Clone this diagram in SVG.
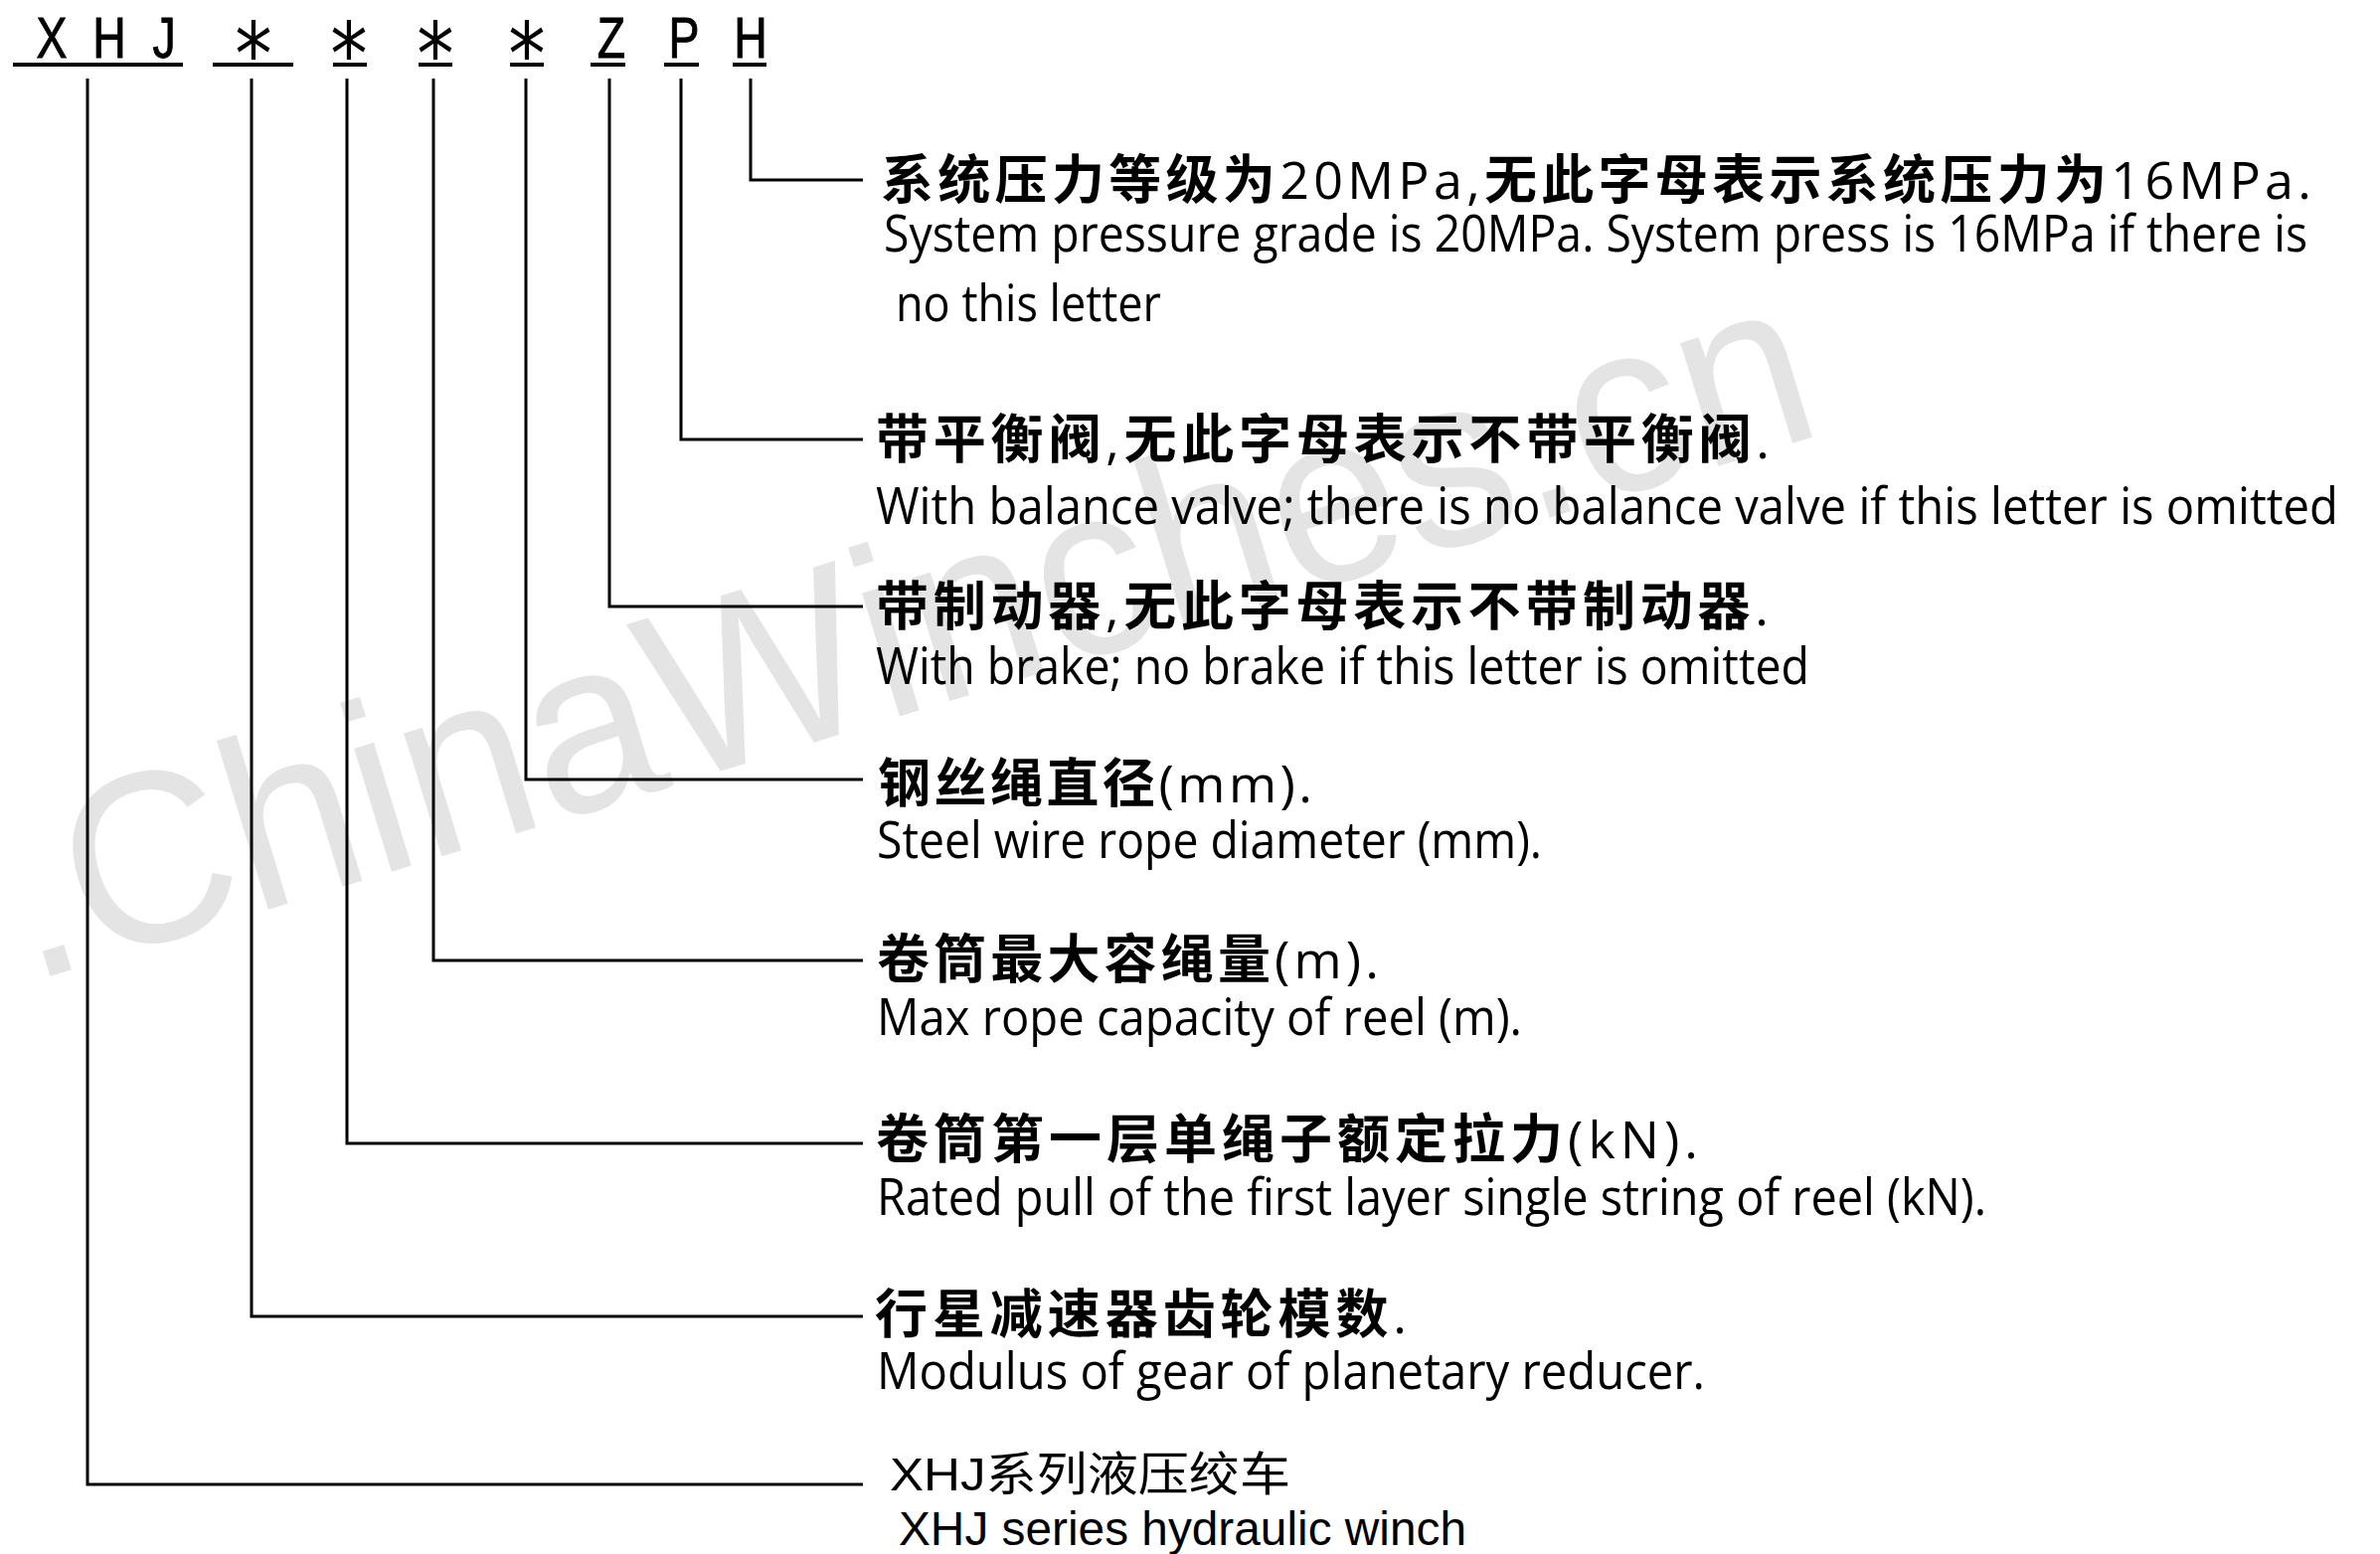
<svg xmlns="http://www.w3.org/2000/svg" width="2394" height="1563" viewBox="0 0 2394 1563">
<style>
.wm { font-family: "Liberation Sans", Arial, sans-serif; font-size: 245px; fill: #e4e4e4; }
.code { font-family: "Liberation Sans", Arial, sans-serif; font-size: 58px; fill: #000; stroke: #000; stroke-width: 1; }
.star { font-family: "DejaVu Sans", sans-serif; font-size: 88px; fill: #000; }
.zh { font-family: "Noto Sans CJK SC", sans-serif; font-size: 53px; font-weight: 700; fill: #000; }
.lat { font-family: "Open Sans", "Liberation Sans", sans-serif; font-weight: 400; font-size: 52px; }
.en { font-family: "Open Sans", "Liberation Sans", sans-serif; font-size: 52px; fill: #000; }
.zhthin { font-family: "Liberation Sans", "Noto Sans CJK SC", sans-serif; font-size: 47px; font-weight: 400; fill: #000; }
.enthin { font-family: "Liberation Sans", Arial, sans-serif; font-size: 48px; fill: #000; }
.ln { stroke: #000; stroke-width: 3; fill: none; }
.ul { stroke: #000; stroke-width: 4; fill: none; }
</style>
<rect width="2394" height="1563" fill="#fff"/>
<g id="watermark">
<text class="wm" x="30" y="988" transform="rotate(-17 30 988)" textLength="1890" lengthAdjust="spacingAndGlyphs">.ChinaWinches.cn</text>
</g>
<g id="code">
<text class="code" text-anchor="middle" transform="translate(52 58) scale(0.8 1)">X</text>
<text class="code" text-anchor="middle" transform="translate(110 58) scale(0.8 1)">H</text>
<text class="code" text-anchor="middle" transform="translate(165 58) scale(0.8 1)">J</text>
<text class="star" text-anchor="middle" transform="translate(255 85) scale(0.85 1)">*</text>
<text class="star" text-anchor="middle" transform="translate(351 85) scale(0.85 1)">*</text>
<text class="star" text-anchor="middle" transform="translate(438 85) scale(0.85 1)">*</text>
<text class="star" text-anchor="middle" transform="translate(530 85) scale(0.85 1)">*</text>
<text class="code" text-anchor="middle" transform="translate(615 58) scale(0.8 1)">Z</text>
<text class="code" text-anchor="middle" transform="translate(688 58) scale(0.8 1)">P</text>
<text class="code" text-anchor="middle" transform="translate(755 58) scale(0.8 1)">H</text>
<path class="ul" d="M13 65H184M214 65H295M335 65H369M421 65H455M513 65H547M594 65H629M668 65H703M737 65H771"/>
</g>
<g id="connectors">
<path class="ln" d="M755 79V181H868"/>
<path class="ln" d="M685 79V442H868"/>
<path class="ln" d="M613 79V610H868"/>
<path class="ln" d="M529 79V784H868"/>
<path class="ln" d="M436 79V966H868"/>
<path class="ln" d="M349 79V1150H868"/>
<path class="ln" d="M253 79V1324H868"/>
<path class="ln" d="M88 79V1493H868"/>
</g>
<g id="desc-H">
<text class="zh" x="886" y="200" textLength="1439" lengthAdjust="spacing">系统压力等级为<tspan class="lat">20MPa,</tspan>无此字母表示系统压力为<tspan class="lat">16MPa.</tspan></text>
<text class="en" x="889" y="253" textLength="1432" lengthAdjust="spacingAndGlyphs">System pressure grade is 20MPa. System press is 16MPa if there is</text>
<text class="en" x="901" y="323" textLength="267" lengthAdjust="spacingAndGlyphs">no this letter</text>
</g>
<g id="desc-P">
<text class="zh" x="881" y="461" textLength="899" lengthAdjust="spacing">带平衡阀<tspan class="lat">,</tspan>无此字母表示不带平衡阀<tspan class="lat">.</tspan></text>
<text class="en" x="881" y="527" textLength="1471" lengthAdjust="spacingAndGlyphs">With balance valve; there is no balance valve if this letter is omitted</text>
</g>
<g id="desc-Z">
<text class="zh" x="881" y="629" textLength="898" lengthAdjust="spacing">带制动器<tspan class="lat">,</tspan>无此字母表示不带制动器<tspan class="lat">.</tspan></text>
<text class="en" x="881" y="688" textLength="939" lengthAdjust="spacingAndGlyphs">With brake; no brake if this letter is omitted</text>
</g>
<g id="desc-rope-diameter">
<text class="zh" x="883" y="807" textLength="437" lengthAdjust="spacing">钢丝绳直径<tspan class="lat">(mm).</tspan></text>
<text class="en" x="882" y="863" textLength="669" lengthAdjust="spacingAndGlyphs">Steel wire rope diameter (mm).</text>
</g>
<g id="desc-rope-capacity">
<text class="zh" x="882" y="984" textLength="505" lengthAdjust="spacing">卷筒最大容绳量<tspan class="lat">(m).</tspan></text>
<text class="en" x="882" y="1041" textLength="649" lengthAdjust="spacingAndGlyphs">Max rope capacity of reel (m).</text>
</g>
<g id="desc-rated-pull">
<text class="zh" x="881" y="1165" textLength="827" lengthAdjust="spacing">卷筒第一层单绳子额定拉力<tspan class="lat">(kN).</tspan></text>
<text class="en" x="882" y="1222" textLength="1116" lengthAdjust="spacingAndGlyphs">Rated pull of the first layer single string of reel (kN).</text>
</g>
<g id="desc-modulus">
<text class="zh" x="880" y="1341" textLength="535" lengthAdjust="spacing">行星减速器齿轮模数<tspan class="lat">.</tspan></text>
<text class="en" x="882" y="1397" textLength="833" lengthAdjust="spacingAndGlyphs">Modulus of gear of planetary reducer.</text>
</g>
<g id="desc-series">
<text class="zhthin" x="895" y="1499" textLength="403" lengthAdjust="spacingAndGlyphs">XHJ系列液压绞车</text>
<text class="enthin" x="904" y="1554" textLength="571" lengthAdjust="spacingAndGlyphs">XHJ series hydraulic winch</text>
</g>
</svg>
